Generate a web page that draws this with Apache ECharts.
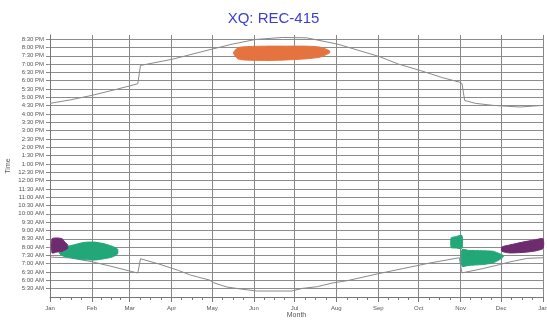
<!DOCTYPE html>
<html><head><meta charset="utf-8">
<script src="https://cdn.jsdelivr.net/npm/echarts@6/dist/echarts.min.js"></script>
<style>html,body{margin:0;padding:0;background:#fff}#c{width:547px;height:320px}</style>
</head><body><div id="c"></div>
<script>
// Month starts (day of year) and tick labels
const monthStarts = [0,31,59,90,120,151,181,212,243,273,304,334,365];
const monthLabels = ['Jan','Feb','Mar','Apr','May','Jun','Jul','Aug','Sep','Oct','Nov','Dec','Jan'];
// y tick values in hours (5:30 AM .. 8:30 PM)
const timeTicks = [5.5,6,6.5,7,7.5,8,8.5,9,9.5,10,10.5,11,11.5,12,12.5,13,13.5,14,14.5,15,15.5,16,16.5,17,17.5,18,18.5,19,19.5,20,20.5];

// Sunset line [day, hour]
const sunset = [[0,16.64],[15,16.85],[31,17.12],[50,17.5],[65,17.82],[67,18.92],[91,19.3],[114,19.78],[135,20.2],[152,20.48],[172,20.6],[190,20.58],[213,20.2],[244,19.45],[258,19.0],[274,18.62],[290,18.2],[303,17.92],[305,17.84],[307,16.82],[315,16.64],[328,16.52],[348,16.42],[365,16.52]];
// Sunrise line [day, hour]
const sunrise = [[0,7.4],[15,7.35],[31,7.12],[45,6.85],[65,6.44],[67,7.3],[80,7.0],[95,6.6],[104,6.32],[118,6.02],[121,5.86],[131,5.6],[143,5.46],[153,5.36],[179,5.36],[187,5.52],[198,5.62],[209,5.84],[220,5.98],[243,6.4],[262,6.72],[281,7.04],[303,7.36],[305,6.45],[320,6.7],[333,6.95],[340,7.1],[353,7.32],[365,7.36]];

// Activity zones [day, low hour, high hour]
const zoneOrange = [[136,19.62,19.72],[139,19.32,19.98],[145,19.24,20.05],[160,19.22,20.08],[175,19.25,20.08],[190,19.32,20.08],[200,19.42,20.02],[207,19.68,19.8]];
const zoneGreenJan = [[7,7.62,7.85],[10,7.45,8.0],[16,7.35,8.1],[25,7.25,8.28],[33,7.22,8.3],[40,7.3,8.2],[46,7.4,8.05],[50,7.58,7.88]];
const zonePurpleJan = [[1.5,7.65,8.5],[5,7.7,8.55],[9,7.75,8.5],[11,7.82,8.3],[13,7.92,8.15]];
const zoneGreenNov1 = [[297,7.97,8.55],[300,7.95,8.62],[305,7.93,8.7]];
const zoneGreenNov2 = [[305,6.85,7.85],[310,6.9,7.8],[320,6.95,7.78],[328,7.05,7.75],[333,7.25,7.6],[335.5,7.4,7.5]];
const zonePurpleDec = [[334.5,7.75,8.0],[340,7.65,8.12],[350,7.68,8.3],[358,7.75,8.42],[365,7.92,8.5]];

const minorX = [];
for (let i = 0; i < monthStarts.length - 1; i++) {
  const a = monthStarts[i], b = monthStarts[i+1];
  for (let k = 1; k < 4; k++) minorX.push(a + (b - a) * k / 4);
}

function fmtTime(v) {
  const h = Math.floor(v + 1e-6);
  const m = Math.round((v - h) * 60);
  const ap = h >= 12 ? 'PM' : 'AM';
  let hh = h % 12; if (hh === 0) hh = 12;
  return hh + ':' + (m < 10 ? '0' : '') + m + ' ' + ap;
}

function zoneSeries(zone, color) {
  return {
    type: 'custom', xAxisIndex: 0, yAxisIndex: 0, silent: true,
    data: zone.map(r => [r[0], r[1], r[2]]),
    renderItem: function (params, api) {
      if (params.dataIndex !== 0) return null;
      const pts = [];
      zone.forEach(r => pts.push(api.coord([r[0], r[2]])));
      for (let i = zone.length - 1; i >= 0; i--) pts.push(api.coord([zone[i][0], zone[i][1]]));
      return { type: 'polygon', shape: { points: pts, smooth: 0.2 }, style: { fill: color, stroke: color, lineWidth: 1 } };
    },
    z: 3
  };
}

const chart = echarts.init(document.getElementById('c'), null, { renderer: 'canvas' });
const axisFont = { fontFamily: 'Liberation Sans, Arial, sans-serif', fontSize: 6, color: '#555' };
chart.setOption({
  animation: false,
  backgroundColor: '#fff',
  title: {
    text: 'XQ: REC-415', left: 'center', top: 6,
    textStyle: { fontFamily: 'Liberation Sans, Arial, sans-serif', fontSize: 15, fontWeight: 'normal', color: '#3d3dd6' }
  },
  grid: { left: 50, right: 4, top: 35, bottom: 23, containLabel: false, outerBoundsMode: 'none' },
  xAxis: [{
    type: 'value', min: 0, max: 365, position: 'bottom',
    name: 'Month', nameLocation: 'middle', nameGap: 15, nameMoveOverlap: false,
    nameTextStyle: { fontFamily: 'Liberation Sans, Arial, sans-serif', fontSize: 7, color: '#555' },
    axisLine: { show: true, lineStyle: { color: '#777', width: 1 } },
    axisTick: { show: true, length: 5, customValues: monthStarts, lineStyle: { color: '#777' } },
    axisLabel: Object.assign({ customValues: monthStarts, margin: 8, formatter: v => monthLabels[monthStarts.indexOf(Math.round(v))] || '' }, axisFont),
    splitLine: { show: true, lineStyle: { color: '#888', width: 1 } }
  }, {
    type: 'value', min: 0, max: 365, position: 'bottom',
    axisLine: { show: false },
    axisTick: { show: true, length: 3, customValues: minorX, lineStyle: { color: '#777' } },
    axisLabel: { show: false },
    splitLine: { show: false }
  }],
  yAxis: {
    type: 'value', min: 5, max: 20.75,
    name: 'Time', nameLocation: 'middle', nameGap: 38, nameRotate: 90, nameMoveOverlap: false,
    nameTextStyle: { fontFamily: 'Liberation Sans, Arial, sans-serif', fontSize: 7, color: '#555' },
    axisLine: { show: true, lineStyle: { color: '#777' } },
    axisTick: { show: true, length: 4, customValues: timeTicks, lineStyle: { color: '#888' } },
    minorTick: { show: true, splitNumber: 3, length: 2, lineStyle: { color: '#999' } },
    axisLabel: Object.assign({ customValues: timeTicks, margin: 6, formatter: fmtTime }, axisFont),
    splitLine: { show: true, lineStyle: { color: '#8c8c8c', width: 1 } }
  },
  series: [
    { type: 'line', data: sunset, showSymbol: false, smooth: false, lineStyle: { color: '#8a8a8a', width: 1 }, z: 2 },
    { type: 'line', data: sunrise, showSymbol: false, smooth: false, lineStyle: { color: '#8a8a8a', width: 1 }, z: 2 },
    zoneSeries(zoneOrange, '#e5733f'),
    zoneSeries(zoneGreenJan, '#22a878'),
    zoneSeries(zonePurpleJan, '#6e2c6e'),
    zoneSeries(zoneGreenNov1, '#22a878'),
    zoneSeries(zoneGreenNov2, '#22a878'),
    zoneSeries(zonePurpleDec, '#6e2c6e')
  ]
});
</script>
</body></html>
